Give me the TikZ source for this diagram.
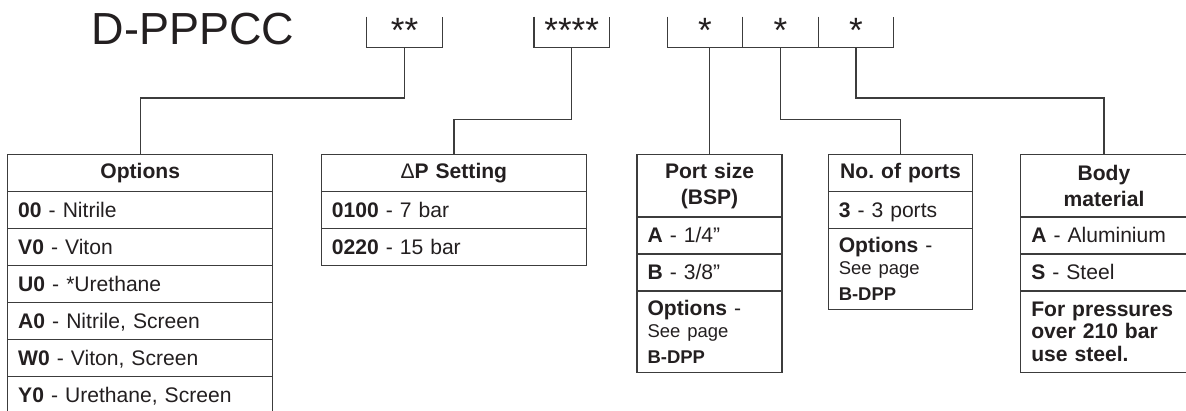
\documentclass[tikz,border=0pt]{standalone}
\usepackage{fontspec}
\setmainfont{Liberation Sans}
\usetikzlibrary{positioning}
\definecolor{rulegray}{HTML}{3C3C3C}
\definecolor{inkgray}{HTML}{231F20}
\newcommand\rowfont{\fontsize{12}{14.8}\selectfont}
\newcommand\notefont{\fontsize{10.5}{12.5}\selectfont}

\begin{document}
\begin{tikzpicture}[x=0.02cm,y=-0.02cm,
    cell/.style={draw=rulegray,line width=0.8pt,text=inkgray,outer sep=0pt,inner xsep=6pt,inner ysep=0pt,
                 minimum height=0.74cm,text width=#1,align=left,font=\rowfont},
    row/.style={cell=#1,text height=8.6pt,text depth=0pt},
    head/.style={cell=#1,align=center,font=\rowfont\bfseries},
    slot/.style={text=inkgray,inner sep=0pt,outer sep=0pt,minimum width=1.51cm,minimum height=0.62cm,
                 text height=11.8pt,text depth=0pt,font=\fontsize{20}{20}\selectfont},
    link/.style={draw=rulegray,line width=0.8pt}]
                \path[use as bounding box,clip] (0,0) rectangle (1186,410);

                \node[text=inkgray,inner sep=0pt,anchor=base west,font=\fontsize{25.6}{30}\selectfont] (code) at (91.5,44.3) {D-PPPCC};

                % code slots
                \node[slot] (b1) at (404.5,32.2) {**};
                \node[slot] (b2) at (571.7,32.2) {****};
                \node[slot] (b3a) at (705,32.2) {*};
                \node[slot,right=0pt of b3a] (b3b) {*};
                \node[slot,right=0pt of b3b] (b3c) {*};

                \draw[link] (b1.north west) |- (b1.south east) -- (b1.north east);
                \draw[link] (b2.north west) |- (b2.south east) -- (b2.north east);
                \draw[link] (b3a.north west) |- (b3c.south east) -- (b3c.north east);
                \draw[link] (b3a.north east) -- (b3a.south east);
                \draw[link] (b3b.north east) -- (b3b.south east);

                % options
                \node[head=4.88cm,anchor=north west] (opth) at (7.7,154.3) {Options};
                \node[row=4.88cm,below=0pt of opth] (opt1) {\textbf{00} - Nitrile};
                \node[row=4.88cm,below=0pt of opt1] (opt2) {\textbf{V0} - Viton};
                \node[row=4.88cm,below=0pt of opt2] (opt3) {\textbf{U0} - *Urethane};
                \node[row=4.88cm,below=0pt of opt3] (opt4) {\textbf{A0} - Nitrile, Screen};
                \node[row=4.88cm,below=0pt of opt4] (opt5) {\textbf{W0} - Viton, Screen};
                \node[row=4.88cm,below=0pt of opt5] (opt6) {\textbf{Y0} - Urethane, Screen};

                % pressure setting
                \node[head=4.88cm,anchor=north west] (dph) at (321.3,154.3) {{\mdseries Δ}P Setting};
                \node[row=4.88cm,below=0pt of dph] (dp1) {\textbf{0100} - 7 bar};
                \node[row=4.88cm,below=0pt of dp1] (dp2) {\textbf{0220} - 15 bar};

                % port size
                \node[head=2.48cm,minimum height=1.252cm,anchor=north west] (porth) at (637,154.3) {Port size\\(BSP)};
                \node[row=2.48cm,below=0pt of porth] (port1) {\textbf{A} - 1/4”};
                \node[row=2.48cm,below=0pt of port1] (port2) {\textbf{B} - 3/8”};
                \node[cell=2.48cm,minimum height=1.634cm,below=0pt of port2] (port3)
                    {{\rowfont\textbf{Options} -}\\ \notefont See page\\ \textbf{B-DPP}};

                % number of ports
                \node[head=2.68cm,inner xsep=0.104cm,anchor=north west] (portsh) at (828.3,154.3) {No.~of~ports};
                \node[row=2.47cm,below=0pt of portsh] (ports1) {\textbf{3} - 3 ports};
                \node[cell=2.47cm,minimum height=1.626cm,below=0pt of ports1] (ports2)
                    {{\rowfont\textbf{Options} -}\\ \notefont See page\\ \textbf{B-DPP}};

                % body material
                \node[head=2.91cm,minimum height=1.252cm,anchor=north west] (bodyh) at (1020.7,154.3) {Body\\material};
                \node[row=2.91cm,below=0pt of bodyh] (body1) {\textbf{A} - Aluminium};
                \node[row=2.91cm,below=0pt of body1] (body2) {\textbf{S} - Steel};
                \node[cell=2.91cm,minimum height=1.63cm,below=0pt of body2,font=\fontsize{12}{12.8}\selectfont\bfseries] (body3)
                    {For pressures\\over 210 bar\\use steel.};

                \draw[link] (b1.south) -- ++(0,50.3) -| (opth.north);
                \draw[link] (b2.south) -- ++(0,71.6) -| (dph.north);
                \draw[link] (porth.north) -- (porth.north |- b3a.south);
                \draw[link] (b3b.south) -- ++(0,71.6) -| (portsh.north);
                \draw[link] (b3c.south) -- ++(0,50.3) -| (bodyh.north);
            \end{tikzpicture}
\end{document}
